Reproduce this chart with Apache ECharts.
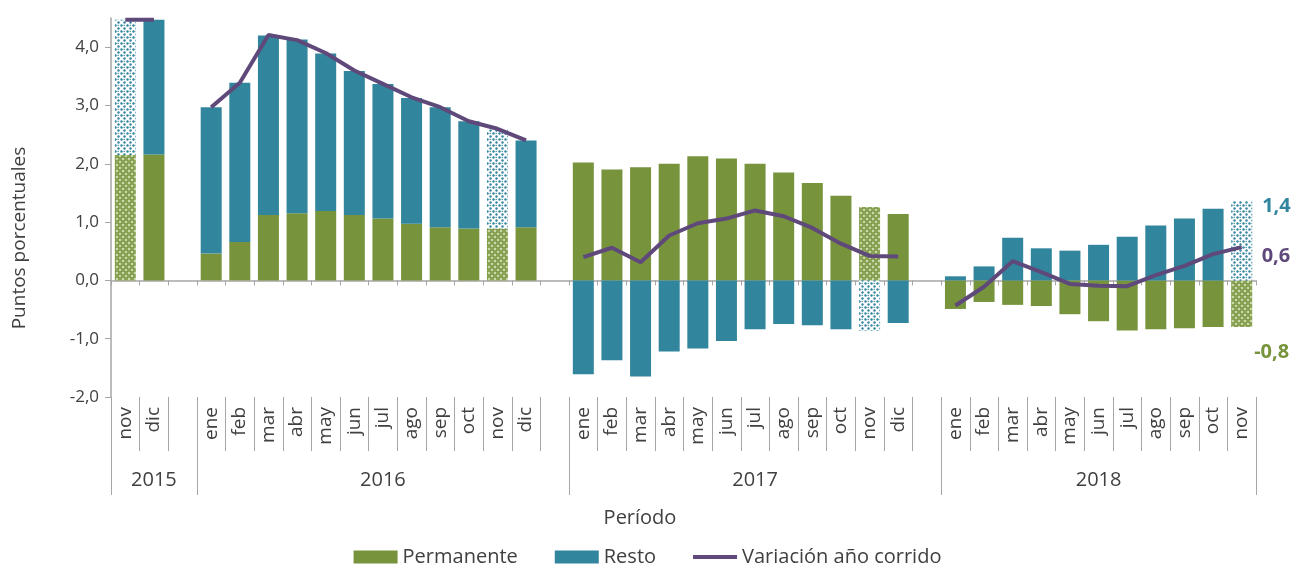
<!DOCTYPE html>
<html>
<head>
<meta charset="utf-8">
<script src="https://cdn.jsdelivr.net/npm/echarts@6/dist/echarts.min.js"></script>
<style>
html,body{margin:0;padding:0;background:#fff;}
#chart{width:1295px;height:574px;}
</style>
</head>
<body>
<div id="chart"></div>
<script>
// ---- data ----
const years = ['2015', '2016', '2017', '2018'];
const months2015 = ['nov', 'dic'];
const months2016 = ['ene','feb','mar','abr','may','jun','jul','ago','sep','oct','nov','dic'];
const months2017 = ['ene','feb','mar','abr','may','jun','jul','ago','sep','oct','nov','dic'];
const months2018 = ['ene','feb','mar','abr','may','jun','jul','ago','sep','oct','nov'];

// values per year (gap categories are added between years)
const permanente2015 = [2.15, 2.16];
const resto2015      = [2.32, 2.31];
const variacion2015  = [4.47, 4.47];

const permanente2016 = [0.46, 0.66, 1.12, 1.15, 1.19, 1.12, 1.06, 0.97, 0.91, 0.89, 0.89, 0.91];
const resto2016      = [2.51, 2.73, 3.08, 2.98, 2.70, 2.47, 2.31, 2.16, 2.06, 1.84, 1.70, 1.49];
const variacion2016  = [2.97, 3.39, 4.21, 4.12, 3.90, 3.60, 3.37, 3.14, 2.97, 2.73, 2.60, 2.40];

const permanente2017 = [2.02, 1.90, 1.94, 2.00, 2.13, 2.09, 2.00, 1.85, 1.67, 1.45, 1.26, 1.14];
const resto2017      = [-1.61, -1.37, -1.65, -1.22, -1.17, -1.04, -0.84, -0.75, -0.77, -0.84, -0.87, -0.73];
const variacion2017  = [0.40, 0.56, 0.31, 0.77, 0.98, 1.06, 1.20, 1.10, 0.90, 0.63, 0.42, 0.41];

const permanente2018 = [-0.49, -0.37, -0.42, -0.44, -0.58, -0.70, -0.86, -0.84, -0.82, -0.80, -0.80];
const resto2018      = [0.07, 0.24, 0.73, 0.55, 0.51, 0.61, 0.75, 0.94, 1.06, 1.23, 1.36];
const variacion2018  = [-0.43, -0.11, 0.33, 0.14, -0.06, -0.09, -0.10, 0.09, 0.25, 0.45, 0.57];

const yTicks = [-2, -1, 0, 1, 2, 3, 4];

// ---- build flat arrays ----
const monthGroups = [months2015, months2016, months2017, months2018];
const permGroups = [permanente2015, permanente2016, permanente2017, permanente2018];
const restoGroups = [resto2015, resto2016, resto2017, resto2018];
const varGroups = [variacion2015, variacion2016, variacion2017, variacion2018];

const categories = [], yearLabels = [], yearStart = [];
const perm = [], resto = [], variacion = [];
monthGroups.forEach((ms, g) => {
  const start = categories.length;
  const size = ms.length + (g < monthGroups.length - 1 ? 1 : 0);
  const center = start + Math.floor((size - 1) / 2);
  yearStart.push(start);
  ms.forEach((m, i) => {
    categories.push(m);
    yearLabels.push(start + i === center ? years[g] : '');
    perm.push(permGroups[g][i]);
    resto.push(restoGroups[g][i]);
    variacion.push(varGroups[g][i]);
  });
  if (g < monthGroups.length - 1) {
    categories.push('');
    yearLabels.push(start + ms.length === center ? years[g] : '');
    perm.push(null); resto.push(null); variacion.push(null);
  }
});

// ---- styles ----
const GREEN = '#77933C', TEAL = '#31859C', PURPLE = '#5F497A';
const AXIS = '#A6A6A6', TXT = '#404040';
const FONT = "'Open Sans', sans-serif";

function dotPattern() {
  const c = document.createElement('canvas'); c.width = 6; c.height = 6;
  const x = c.getContext('2d');
  x.fillStyle = '#ffffff'; x.fillRect(0, 0, 6, 6);
  x.fillStyle = TEAL;
  [[1.5,1.5],[4.5,4.5]].forEach(p => { x.beginPath(); x.arc(p[0], p[1], 1.2, 0, Math.PI*2); x.fill(); });
  x.fillRect(3.6, 0.8, 1.2, 1.2);
  return c;
}
function circlePattern() {
  const c = document.createElement('canvas'); c.width = 6; c.height = 6;
  const x = c.getContext('2d');
  x.fillStyle = '#ffffff'; x.fillRect(0, 0, 6, 6);
  x.strokeStyle = GREEN; x.lineWidth = 1.2; x.fillStyle = '#c9d8a8';
  [[0,0],[6,0],[3,3],[0,6],[6,6]].forEach(p => {
    x.beginPath(); x.arc(p[0], p[1], 2.1, 0, Math.PI*2); x.fill(); x.stroke();
  });
  return c;
}
const tealPat = { image: dotPattern(), repeat: 'repeat' };
const greenPat = { image: circlePattern(), repeat: 'repeat' };

const fmt = v => v.toFixed(1).replace('.', ',');
const lastIdx = categories.length - 1;

function barData(values, pattern, labelColor, labelOffset) {
  return values.map((v, i) => {
    if (v === null) return null;
    const item = { value: v };
    if (categories[i] === 'nov') item.itemStyle = { color: pattern };
    if (i === lastIdx) {
      item.label = {
        show: true, position: 'right', distance: 5, offset: labelOffset,
        formatter: p => fmt(p.value), color: labelColor,
        fontFamily: FONT, fontSize: 20, fontWeight: 'bold'
      };
    }
    return item;
  });
}

const chart = echarts.init(document.getElementById('chart'), null, { renderer: 'canvas' });
const baseX = {
  type: 'category', data: categories, boundaryGap: true
};
chart.setOption({
  animation: false,
  textStyle: { fontFamily: FONT },
  grid: { left: 111, right: 39, top: 18, bottom: 177, containLabel: false },
  legend: {
    bottom: 2, left: 'center',
    itemWidth: 44, itemHeight: 13, itemGap: 37,
    textStyle: { color: TXT, fontSize: 20, fontFamily: FONT },
    data: [
      { name: 'Permanente', icon: 'rect' },
      { name: 'Resto', icon: 'rect' },
      { name: 'Variación año corrido', icon: 'path://M0,0L44,0L44,4L0,4Z' }
    ]
  },
  xAxis: [
    Object.assign({}, baseX, {
      position: 'bottom',
      axisLine: { show: true, onZero: true, lineStyle: { color: AXIS, width: 1.5 } },
      axisTick: { show: true, interval: 0, length: 5, lineStyle: { color: AXIS } },
      axisLabel: { show: false }
    }),
    Object.assign({}, baseX, {
      position: 'bottom',
      axisLine: { show: false, onZero: false },
      axisTick: { show: true, interval: 0, length: 54, lineStyle: { color: AXIS } },
      axisLabel: { show: true, interval: 0, rotate: 90, margin: 10, color: TXT, fontSize: 19, fontFamily: FONT }
    }),
    Object.assign({}, baseX, {
      position: 'bottom',
      axisLine: { show: false, onZero: false },
      axisTick: { show: true, length: 98, lineStyle: { color: AXIS },
        interval: (idx) => yearStart.indexOf(idx) >= 0 },
      axisLabel: { show: true, interval: 0, margin: 73, color: TXT, fontSize: 20, fontFamily: FONT,
        formatter: (v, idx) => yearLabels[idx] }
    })
  ],
  yAxis: {
    type: 'value', min: yTicks[0], max: 4.5, interval: 1,
    splitLine: { show: false },
    axisLine: { show: true, lineStyle: { color: AXIS, width: 1.5 } },
    axisTick: { show: true, length: 6, lineStyle: { color: AXIS } },
    axisLabel: { color: TXT, fontSize: 17, margin: 12, fontFamily: FONT, showMaxLabel: false,
      formatter: v => yTicks.indexOf(v) >= 0 ? fmt(v) : '' }
  },
  series: [
    {
      name: 'Permanente', type: 'bar', stack: 'total', barWidth: 21,
      itemStyle: { color: GREEN },
      data: barData(perm, greenPat, GREEN, [-3, 49])
    },
    {
      name: 'Resto', type: 'bar', stack: 'total', barWidth: 21,
      itemStyle: { color: TEAL },
      data: barData(resto, tealPat, TEAL, [5, -34])
    },
    {
      name: 'Variación año corrido', type: 'line', symbol: 'none', showSymbol: false,
      connectNulls: false, z: 5,
      lineStyle: { color: PURPLE, width: 4 },
      itemStyle: { color: PURPLE },
      data: variacion,
      endLabel: {
        show: true, formatter: p => fmt(p.value), color: PURPLE,
        fontFamily: FONT, fontSize: 20, fontWeight: 'bold', distance: 20, offset: [0, 9]
      }
    }
  ],
  graphic: [
    { type: 'text', x: 20, y: 238, rotation: Math.PI / 2,
      style: { text: 'Puntos porcentuales', textAlign: 'center', textVerticalAlign: 'middle',
        fill: TXT, font: "19px 'Open Sans', sans-serif" } },
    { type: 'text', x: 640, y: 518,
      style: { text: 'Período', textAlign: 'center', textVerticalAlign: 'middle',
        fill: TXT, font: "20px 'Open Sans', sans-serif" } }
  ]
});
</script>
</body>
</html>
